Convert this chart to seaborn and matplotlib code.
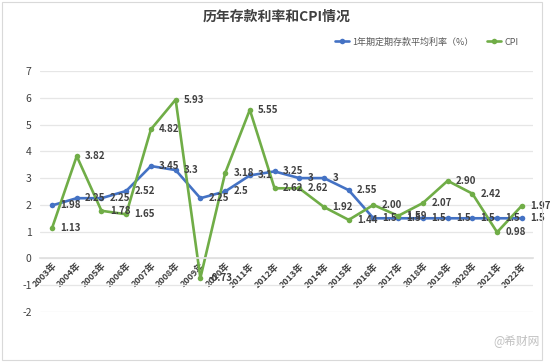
import pandas as pd
import matplotlib.pyplot as plt
import seaborn as sns

# 数据
years = [f"{y}年" for y in range(2003, 2023)]
deposit_rate = [1.98, 2.25, 2.25, 2.52, 3.45, 3.3, 2.25, 2.5, 3.1, 3.25,
                3, 3, 2.55, 1.5, 1.5, 1.5, 1.5, 1.5, 1.5, 1.5]
cpi = [1.13, 3.82, 1.78, 1.65, 4.82, 5.93, -0.73, 3.18, 5.55, 2.62,
       2.62, 1.92, 1.44, 2.00, 1.59, 2.07, 2.90, 2.42, 0.98, 1.97]

df = pd.DataFrame({'idx': range(len(years)), 'year': years,
                   'deposit': deposit_rate, 'cpi': cpi})

sns.set_theme(style='white')
plt.rcParams['font.family'] = ['Noto Sans CJK SC', 'DejaVu Sans']
plt.rcParams['axes.unicode_minus'] = False

blue = '#4472C4'
green = '#70AD47'

fig = plt.figure(figsize=(5.54, 3.62), dpi=100)
ax = fig.add_axes([0.072, 0.138, 0.89, 0.666])

sns.lineplot(data=df, x='idx', y='deposit', ax=ax, color=blue, lw=1.9,
             marker='o', markersize=4, markeredgewidth=0,
             label='1年期定期存款平均利率（%）')
sns.lineplot(data=df, x='idx', y='cpi', ax=ax, color=green, lw=1.9,
             marker='o', markersize=4, markeredgewidth=0, label='CPI')

# 数据标签
for i, v in enumerate(deposit_rate):
    ax.annotate(f"{v:g}", (i, v), xytext=(6, 0), textcoords='offset points',
                ha='left', va='center', fontsize=7, fontweight='bold', color='#404040')
for i, v in enumerate(cpi):
    ax.annotate(f"{v:.2f}", (i, v), xytext=(6, 0), textcoords='offset points',
                ha='left', va='center', fontsize=7, fontweight='bold', color='#404040')

ax.set_ylim(-2, 7)
ax.set_xlim(-0.49, 19.45)
ax.set_yticks(range(-2, 8))
ax.yaxis.grid(True, color='#e6e6e6', lw=0.9)
ax.xaxis.grid(False)
for s in ['top', 'right', 'left']:
    ax.spines[s].set_visible(False)
ax.spines['bottom'].set_position(('data', 0))
ax.spines['bottom'].set_color('#e0e0e0')
ax.set_xticks(df['idx'])
ax.set_xticklabels(years, rotation=45, ha='right', rotation_mode='anchor',
                   fontsize=6.5, fontweight='bold', color='#404040')
ax.tick_params(axis='x', length=0, pad=2)
ax.tick_params(axis='y', length=0, labelsize=7.5, labelcolor='#404040', pad=6)
ax.set_xlabel('')
ax.set_ylabel('')

ax.get_legend().remove()
h, l = ax.get_legend_handles_labels()
fig.legend(h, l, loc='center right', bbox_to_anchor=(0.95, 0.884), ncol=2,
           frameon=False, fontsize=6.5, labelcolor='#595959',
           handlelength=1.6, columnspacing=1.5, handletextpad=0.3)

fig.text(0.5, 0.953, '历年存款利率和CPI情况', ha='center', va='center',
         fontsize=10, fontweight='bold', color='#404040')
fig.text(0.975, 0.06, '@希财网', ha='right', va='center', fontsize=8.5, color='#c0c0c0')

fig.patches.append(plt.Rectangle((0.004, 0.006), 0.975, 0.988, transform=fig.transFigure,
                                 fill=False, edgecolor='#d9d9d9', lw=0.8))

fig.savefig('out.png', dpi=100)
